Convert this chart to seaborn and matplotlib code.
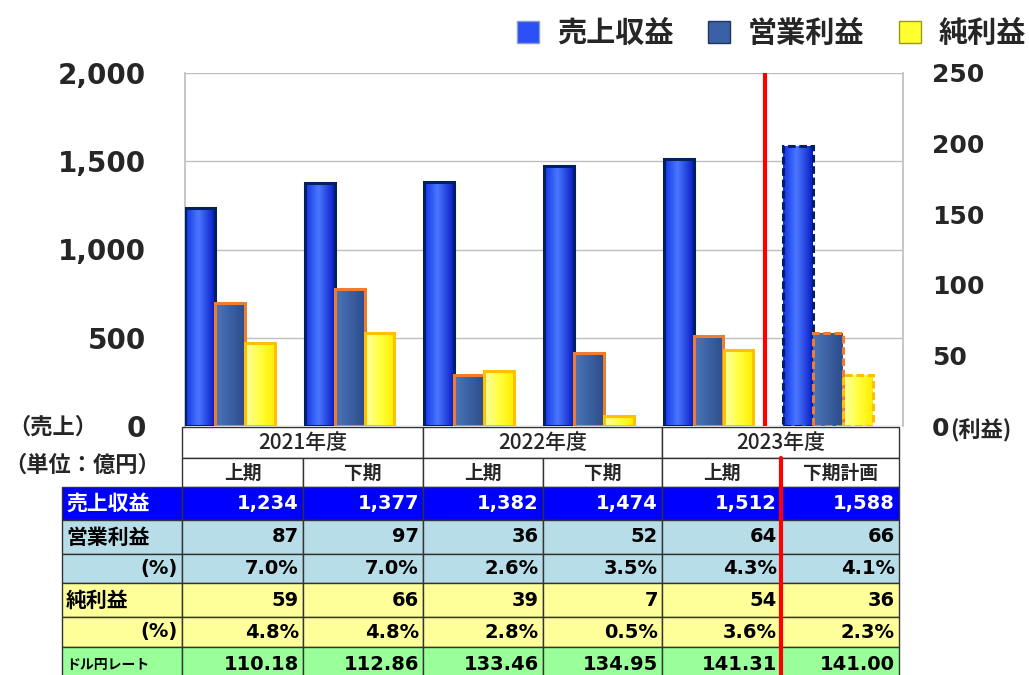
import numpy as np
import pandas as pd
import matplotlib
matplotlib.use('Agg')
import matplotlib.pyplot as plt
from matplotlib.patches import Rectangle, Patch
from matplotlib.colors import to_rgb
import seaborn as sns

periods = ['2021上', '2021下', '2022上', '2022下', '2023上', '2023下計画']
years = ['2021年度', '2022年度', '2023年度']
halves = ['上期', '下期', '上期', '下期', '上期', '下期計画']
series = ['売上収益', '営業利益', '純利益', 'ドル円レート']
sales = [1234, 1377, 1382, 1474, 1512, 1588]
op_profit = [87, 97, 36, 52, 64, 66]
op_margin = ['7.0%', '7.0%', '2.6%', '3.5%', '4.3%', '4.1%']
net_profit = [59, 66, 39, 7, 54, 36]
net_margin = ['4.8%', '4.8%', '2.8%', '0.5%', '3.6%', '2.3%']
usd_jpy = [110.18, 112.86, 133.46, 134.95, 141.31, 141.00]

sns.set_theme(style='white')
plt.rcParams['font.family'] = ['Noto Sans CJK JP', 'DejaVu Sans']

W, H = 1029, 675
fig = plt.figure(figsize=(W / 100, H / 100), dpi=100)
ax = fig.add_axes([185 / W, 1 - 426 / H, 718 / W, 353 / H])
ax2 = ax.twinx()

df_sales = pd.DataFrame({'period': periods, 'value': sales, 'series': series[0]})
df_profit = pd.concat([
    pd.DataFrame({'period': periods, 'value': op_profit, 'series': series[1]}),
    pd.DataFrame({'period': periods, 'value': net_profit, 'series': series[2]}),
])
sns.barplot(data=df_sales, x='period', y='value', hue='series', hue_order=series,
            order=periods, width=1.0, dodge=True, errorbar=None, legend=False, ax=ax)
sns.barplot(data=df_profit, x='period', y='value', hue='series', hue_order=series,
            order=periods, width=1.0, dodge=True, errorbar=None, legend=False, ax=ax2)


def gradient(stops, n=64):
    pos = [s[0] for s in stops]
    cols = np.array([to_rgb(s[1]) for s in stops])
    t = np.linspace(0, 1, n)
    g = np.stack([np.interp(t, pos, cols[:, c]) for c in range(3)], axis=-1)
    return g[np.newaxis, :, :]


blue_grad = gradient([(0, '#1232E6'), (0.45, '#4A78FF'), (1, '#0A1CC4')])
steel_grad = gradient([(0, '#4C76BA'), (1, '#2C4C8C')])
yellow_grad = gradient([(0, '#FFFFA8'), (0.5, '#FFFF40'), (1, '#FFEE00')])
styles = {0: ('#002060', blue_grad), 1: ('#ED7D31', steel_grad), 2: ('#FFC000', yellow_grad)}

for a in (ax, ax2):
    for p in list(a.patches):
        xc = p.get_x() + p.get_width() / 2
        grp = int(round(xc))
        slot = int(round((xc - grp) / 0.25 + 1.5))
        edge, grad = styles[slot]
        dashed = grp == len(periods) - 1
        x0, w, h = p.get_x(), p.get_width(), p.get_height()
        p.set_facecolor('none')
        p.set_edgecolor('none')
        im = a.imshow(grad, extent=(x0, x0 + w, 0, h), aspect='auto', zorder=2,
                      interpolation='bilinear')
        im.set_clip_path(p)
        a.add_patch(Rectangle((x0, 0), w, h, fill=False, edgecolor=edge, lw=2.2,
                              ls=(0, (2.5, 1.2)) if dashed else '-', zorder=3))

ax.set_xlim(-0.5, 5.5)
ax.set_ylim(0, 2000)
ax2.set_ylim(0, 250)
ax.set_xticks([])
ax.set_xlabel('')
ax.set_ylabel('')
ax2.set_ylabel('')

ax.set_yticks(range(0, 2001, 500))
ax.set_yticklabels([f'{v:,}' for v in range(0, 2001, 500)])
ax2.set_yticks(range(0, 251, 50))
ax2.set_yticklabels([str(v) for v in range(0, 251, 50)])
ax.tick_params(axis='y', length=0, pad=28, labelsize=20)
ax2.tick_params(axis='y', length=0, pad=21, labelsize=18)
for lbl in ax.get_yticklabels() + ax2.get_yticklabels():
    lbl.set_fontweight('bold')
    lbl.set_fontfamily('DejaVu Sans')

ax.yaxis.grid(True, color='#BFBFBF', lw=1)
ax.set_axisbelow(True)
for s in ax2.spines.values():
    s.set_visible(False)
ax.spines['top'].set_visible(False)
ax.spines['left'].set_color('#BFBFBF')
ax.spines['right'].set_color('#BFBFBF')
ax.spines['bottom'].set_visible(False)
ax2.axvline(4.35, color='red', lw=3, zorder=5)

# table below the chart
tax = fig.add_axes([0, 0, 1, 1])
tax.set_xlim(0, W)
tax.set_ylim(H, 0)
tax.axis('off')

col_edges = [182, 303, 423, 543, 662, 781, 899]
label_x0 = 62
line_c = '#333333'

for k, yr in enumerate(years):
    x0, x1 = col_edges[2 * k], col_edges[2 * k + 2]
    tax.add_patch(Rectangle((x0, 427), x1 - x0, 31, facecolor='white', edgecolor=line_c, lw=1))
    tax.text((x0 + x1) / 2, 443, yr, ha='center', va='center', fontsize=15, fontweight='medium')
for i, hv in enumerate(halves):
    x0, x1 = col_edges[i], col_edges[i + 1]
    tax.add_patch(Rectangle((x0, 458), x1 - x0, 29, facecolor='white', edgecolor=line_c, lw=1))
    tax.text((x0 + x1) / 2, 473, hv, ha='center', va='center', fontsize=13.5, fontweight='bold')

rows = [
    ('売上収益', [f'{v:,}' for v in sales], '#0000FF', 'white', 'left'),
    ('営業利益', [str(v) for v in op_profit], '#B7DEE8', 'black', 'left'),
    ('(%)', op_margin, '#B7DEE8', 'black', 'right'),
    ('純利益', [str(v) for v in net_profit], '#FFFF99', 'black', 'left'),
    ('(%)', net_margin, '#FFFF99', 'black', 'right'),
    ('ドル円レート', [f'{v:.2f}' for v in usd_jpy], '#99FF99', 'black', 'left'),
]
row_edges = [487, 520, 554, 583, 617, 647, 682]
for r, (label, vals, bg, fg, lal) in enumerate(rows):
    y0, y1 = row_edges[r], row_edges[r + 1]
    ym = (y0 + y1) / 2
    tax.add_patch(Rectangle((label_x0, y0), col_edges[0] - label_x0, y1 - y0,
                            facecolor=bg, edgecolor=line_c, lw=1))
    if lal == 'left':
        fs = 10 if label == 'ドル円レート' else 15
        tax.text(label_x0 + 4, ym, label, ha='left', va='center', fontsize=fs,
                 fontweight='bold', color=fg)
    else:
        tax.text(col_edges[0] - 4, ym, label, ha='right', va='center', fontsize=14,
                 fontweight='bold', color=fg, fontfamily='DejaVu Sans')
    for i, v in enumerate(vals):
        x0, x1 = col_edges[i], col_edges[i + 1]
        tax.add_patch(Rectangle((x0, y0), x1 - x0, y1 - y0, facecolor=bg, edgecolor=line_c, lw=1))
        tax.text(x1 - 4, ym, v, ha='right', va='center', fontsize=14, fontweight='bold',
                 color=fg, fontfamily='DejaVu Sans')

tax.plot([781, 781], [458, H], color='red', lw=3)

tax.text(8, 427, '（売上）', ha='left', va='center', fontsize=16, fontweight='bold')
tax.text(4, 465, '（単位：億円）', ha='left', va='center', fontsize=16, fontweight='bold')
tax.text(950, 431, '(利益)', ha='left', va='center', fontsize=16, fontweight='bold')

handles = [
    Patch(facecolor='#2A50F5', edgecolor='#8899CC', lw=1),
    Patch(facecolor='#3A60A6', edgecolor='#1F3560', lw=1),
    Patch(facecolor='#FFFF30', edgecolor='#99991A', lw=1),
]
fig.legend(handles, series[:3], loc='upper right', bbox_to_anchor=(1052 / W, 1 + 8 / H),
           ncol=3, frameon=False, prop={'weight': 'bold', 'size': 21},
           handlelength=0.75, handleheight=0.75, columnspacing=1.2, handletextpad=0.6)

fig.savefig('out.png', dpi=100)
